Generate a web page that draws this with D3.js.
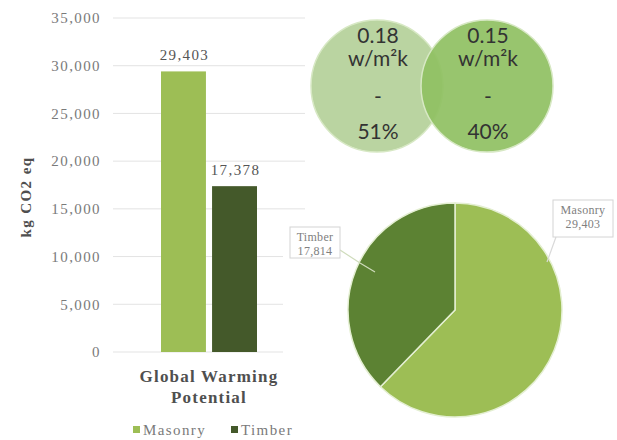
<!DOCTYPE html>
<html>
<head>
<meta charset="utf-8">
<style>
  body { margin: 0; background: #fff; }
</style>
</head>
<body>
<svg id="chart" width="617" height="440"></svg>
<script src="https://d3js.org/d3.v7.min.js"></script>
<script>
// data
const categories = ["Global Warming Potential"]
const seriesNames = ["Masonry", "Timber"]
const barValues = [29403, 17378]
const pieValues = [29403, 17814]
const yTicks = [0, 5000, 10000, 15000, 20000, 25000, 30000, 35000]
const uValues = ["0.18", "0.15"]
const uShares = ["51%", "40%"]

const barColors = ["#9dbe55", "#44592a"]
const pieColors = ["#9dbe55", "#5c8233"]
const circleColors = ["#bad4a1", "#90c163"]

const serif = "'Liberation Serif', 'Times New Roman', serif"
const sans = "Lato, 'Open Sans', sans-serif"

const svg = d3.select("#chart")

// ---- bar chart ----
const y = d3.scaleLinear().domain([0, 35000]).range([352, 18])
const x1 = d3.scaleBand().domain(seriesNames).range([161, 257]).paddingInner(0.12)

svg.append("g").selectAll("line")
  .data(yTicks)
  .enter()
  .append("line")
    .attr("x1", 113)
    .attr("x2", d => d >= 15000 ? 305 : 283)
    .attr("y1", d => y(d))
    .attr("y2", d => y(d))
    .attr("stroke", "#e3e3e3")
    .attr("stroke-width", 1)

const yAxis = svg.append("g")
  .attr("transform", "translate(101,0)")
  .call(d3.axisLeft(y).tickValues(yTicks).tickSize(0).tickPadding(0).tickFormat(d3.format(",")))
yAxis.select(".domain").remove()
yAxis.selectAll("text")
  .style("font-family", serif)
  .style("font-size", "15px")
  .style("letter-spacing", "1.4px")
  .attr("fill", "#7a7a7a")

svg.selectAll(".bar")
  .data(barValues)
  .enter()
  .append("rect")
    .attr("class", "bar")
    .attr("x", (d, i) => x1(seriesNames[i]))
    .attr("width", x1.bandwidth())
    .attr("y", d => y(d))
    .attr("height", d => y(0) - y(d))
    .attr("fill", (d, i) => barColors[i])

svg.selectAll(".barlabel")
  .data(barValues)
  .enter()
  .append("text")
    .attr("class", "barlabel")
    .attr("x", (d, i) => x1(seriesNames[i]) + x1.bandwidth() / 2 + 1)
    .attr("y", d => y(d) - 11)
    .attr("text-anchor", "middle")
    .style("font-family", serif)
    .style("font-size", "15px")
    .style("letter-spacing", "1.4px")
    .attr("fill", "#555")
    .text(d3.format(","))

// category label
const cat = svg.append("text")
  .attr("text-anchor", "middle")
  .style("font-family", serif)
  .style("font-size", "17px")
  .style("font-weight", "bold")
  .style("letter-spacing", "1.2px")
  .attr("fill", "#4f4f4f")
cat.append("tspan").attr("x", 209).attr("y", 382).text("Global Warming")
cat.append("tspan").attr("x", 209).attr("y", 403).text("Potential")

// y title
svg.append("text")
  .attr("transform", "translate(31,197) rotate(-90)")
  .attr("text-anchor", "middle")
  .style("font-family", serif)
  .style("font-size", "15px")
  .style("font-weight", "bold")
  .style("letter-spacing", "1.4px")
  .attr("fill", "#4f4f4f")
  .text("kg CO2 eq")

// legend
const legendX = [133, 231]
seriesNames.forEach((name, i) => {
  svg.append("rect")
    .attr("x", legendX[i]).attr("y", 426)
    .attr("width", 7).attr("height", 7)
    .attr("fill", barColors[i])
  svg.append("text")
    .attr("x", legendX[i] + 10).attr("y", 435)
    .style("font-family", serif)
    .style("font-size", "15px")
    .style("letter-spacing", "1.4px")
    .attr("fill", "#7a7a7a")
    .text(name)
})

// ---- U-value circles ----
const circleX = [377, 487]
uValues.forEach((v, i) => {
  svg.append("circle")
    .attr("cx", circleX[i]).attr("cy", 86).attr("r", 66)
    .attr("fill", circleColors[i])
    .attr("fill-opacity", i == 1 ? 0.93 : 1)
    .attr("stroke", "#d7e8c4")
    .attr("stroke-width", 1.5)
})
uValues.forEach((v, i) => {
  const cx = circleX[i] + 1
  const lines = [[v, 43], ["w/m²k", 66], ["-", 104], [uShares[i], 139]]
  lines.forEach(l => {
    svg.append("text")
      .attr("x", cx).attr("y", l[1])
      .attr("text-anchor", "middle")
      .style("font-family", sans)
      .style("font-size", "21px")
      .attr("fill", "#333")
      .text(l[0])
  })
})

// ---- pie ----
const pieG = svg.append("g").attr("transform", "translate(455,310)")
const pie = d3.pie().sort(null)
const arc = d3.arc().innerRadius(0).outerRadius(107)
pieG.selectAll("path")
  .data(pie(pieValues))
  .enter()
  .append("path")
    .attr("d", arc)
    .attr("fill", (d, i) => pieColors[i])
    .attr("stroke", "#e4efd2")
    .attr("stroke-width", 1.5)

// pie labels with leader lines
const pieLabels = [
  { box: [553, 200, 60, 37], line: [[556, 237], [547, 262]] },
  { box: [290, 227, 50, 31], line: [[340, 250], [360, 263], [375, 272]] }
]
pieLabels.forEach((p, i) => {
  svg.append("path")
    .attr("d", d3.line()(p.line))
    .attr("fill", "none")
    .attr("stroke", i == 0 ? "#d9d9d9" : "#cfdcbc")
    .attr("stroke-width", 1.2)
  svg.append("rect")
    .attr("x", p.box[0]).attr("y", p.box[1])
    .attr("width", p.box[2]).attr("height", p.box[3])
    .attr("fill", "#fff")
    .attr("stroke", "#d4d4d4")
  const cx = p.box[0] + p.box[2] / 2
  const lab = svg.append("text")
    .attr("text-anchor", "middle")
    .style("font-family", serif)
    .style("font-size", "12px")
    .style("letter-spacing", "0.3px")
    .attr("fill", "#808080")
  lab.append("tspan").attr("x", cx).attr("y", p.box[1] + 14).text(seriesNames[i])
  lab.append("tspan").attr("x", cx).attr("y", p.box[1] + 28).text(d3.format(",")(pieValues[i]))
})
</script>
</body>
</html>
